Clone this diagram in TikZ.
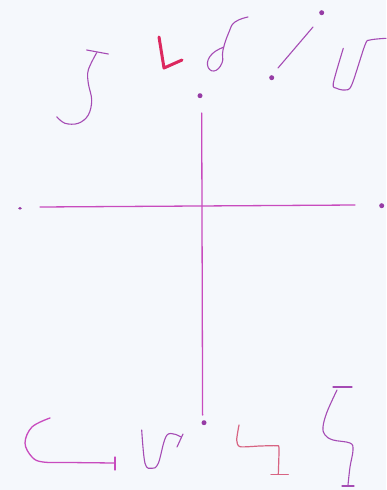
\documentclass[tikz,border=0pt]{standalone}
\usepackage{xcolor}
\usepackage{tikz}
\usetikzlibrary{positioning}

\definecolor{paper}{RGB}{245,248,252}
\definecolor{penmag}{RGB}{200,75,190}
\definecolor{penplum}{RGB}{165,75,180}
\definecolor{pendot}{RGB}{150,60,165}
\definecolor{penred}{RGB}{220,40,95}
\definecolor{pensalmon}{RGB}{215,100,130}

\begin{document}
\begin{tikzpicture}[x=1pt,y=-1pt,line cap=round,line join=round,
  pen/.style={penmag,line width=1.3pt},
  thinpen/.style={penplum,line width=1.1pt},
  dot/.style={pendot}]
\fill[paper] (0,0) rectangle (386,490);
\useasboundingbox (0,0) rectangle (386,490);

% the cross
\coordinate (vtop) at (201.7,113);
\coordinate (vbot) at (202.6,415);
\coordinate (hleft) at (40,207);
\coordinate (hright) at (355,205);
\draw[pen] (vtop) -- (vbot);
\draw[pen] (hleft) -- (hright);
\foreach \x/\y in {200/95.7, 204/422.7, 381.7/205.7}
  \fill[dot] (\x,\y) circle (2.5pt);
\fill[dot] (20,208.3) ellipse (1.9pt and 1.4pt);

% top row of strokes
\draw[thinpen] (86.7,50) -- (108.3,54);
\draw[thinpen] plot[smooth,tension=0.6] coordinates {(96.7,52.7) (88.3,70) (88.3,83.3) (91.7,100) (88.3,115) (78.3,123.3) (65,123.3) (56.7,116.7)};
\draw[penred,line width=3pt] (159,37) -- (164,68) -- (182,60);
\draw[thinpen] plot[smooth,tension=0.8] coordinates {(224,47) (212,54) (207.5,65) (214,71) (222,63) (223,50) (229,32) (235,22) (248,17)};
\fill[dot] (321.7,12.7) circle (2.5pt);
\fill[dot] (271.7,77.7) circle (2.5pt);
\draw[thinpen] (313,27) -- (278,68);
\draw[thinpen] plot[smooth,tension=0.5] coordinates {(343.3,48.3) (333.3,83.3) (336.7,88.3) (345,90) (351.7,85) (365,45) (370,40) (386,38.3)};

% bottom row of strokes
\draw[pen] plot[smooth,tension=0.6] coordinates {(50,418) (32,427) (25,443) (32,457) (43,462) (70,462.5) (115,463)};
\draw[pen] (115,457) -- (115,470);
\draw[thinpen] plot[smooth,tension=0.6] coordinates {(141.7,430) (145,463.3) (151.7,468.3) (158.3,463.3) (167,435) (181,437)};
\draw[thinpen] (183,434) -- (177,447);
\draw[pensalmon,line width=1.2pt] plot[smooth,tension=0.4] coordinates {(239,425) (236.7,440) (240,446.7) (260,446) (276.7,445.7) (279,448) (278.3,474.3)};
\draw[pensalmon,line width=1.2pt] (271,474.3) -- (288.3,474.3);
\draw[thinpen] (333,387) -- (352,387);
\draw[thinpen] plot[smooth,tension=0.6] coordinates {(337,390) (327,412) (323,427) (325,435) (333,440) (350,443) (353,450) (350,467) (348,485)};
\draw[thinpen] (342,486) -- (354,486);
\end{tikzpicture}
\end{document}
